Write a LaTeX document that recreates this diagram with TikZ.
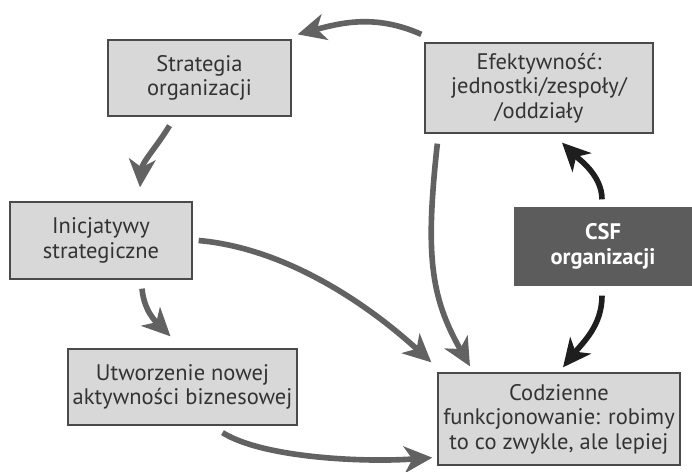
\documentclass[tikz,border=0pt]{standalone}
\usepackage{fontspec}
\setmainfont{PT Sans}
\usepackage{tikz}
\usetikzlibrary{arrows.meta}
\definecolor{boxfill}{HTML}{D8D8D8}
\definecolor{boxline}{HTML}{4A4A4A}
\definecolor{csffill}{HTML}{5C5C5C}
\definecolor{flow}{HTML}{626262}
\definecolor{csfflow}{HTML}{1E1E1E}

\begin{document}
\begin{tikzpicture}[
  x=0.025cm, y=-0.025cm,
  box/.style={draw=boxline, line width=0.9pt, fill=boxfill, align=center,
              text=black!80, font=\fontsize{16}{17.5}\selectfont, inner sep=0pt},
  csfbox/.style={box, fill=csffill, draw=csffill, text=white, font=\fontsize{16}{17.5}\selectfont\bfseries},
  flowarrow/.style={draw=flow, line width=4pt,
                    -{Stealth[length=7mm, width=6.6mm, inset=2mm]}},
  csfarrow/.style={flowarrow, draw=csfflow}
]
  \useasboundingbox (0,0) rectangle (692,472);

  \node[box, minimum width=4.575cm, minimum height=1.9cm] (strat) at (199.5,78) {Strategia\\organizacji};
  \node[box, minimum width=5.7cm, minimum height=2.25cm] (efekt) at (539,88) {Efektywność:\\jednostki/zespoły/\\/oddziały};
  \node[csfbox, minimum width=4.4cm, minimum height=1.925cm] (csf) at (603,246.5) {CSF\\organizacji};
  \node[box, minimum width=4.55cm, minimum height=1.925cm] (inic) at (101,240.5) {Inicjatywy\\strategiczne};
  \node[box, minimum width=5.725cm, minimum height=1.9cm] (utw) at (182.5,387) {Utworzenie nowej\\aktywności biznesowej};
  \node[box, minimum width=6.05cm, minimum height=2.3cm] (codz) at (559,419) {Codzienne\\funkcjonowanie: robimy\\to co zwykle, ale lepiej};

  % main loop
  \draw[flowarrow] ([shift={(-3,-8)}]efekt.north west) .. controls +(-45,-20) and +(45,-12) .. ([shift={(6,-5)}]strat.north east);
  \draw[flowarrow] ([shift={(-30,9)}]strat.south) .. controls +(-12,20) and +(2,-25) .. ([shift={(39,-14)}]inic.north);
  \draw[flowarrow] ([shift={(41,9)}]inic.south) .. controls +(2,22) and +(-15,-15) .. ([shift={(-12,-12)}]utw.north);
  \draw[flowarrow] ([shift={(6,0)}]inic.east) .. controls +(90,8) and +(-60,-55) .. ([shift={(-6,-10)}]codz.north west);
  \draw[flowarrow] ([shift={(40,7)}]utw.south) .. controls +(40,25) and +(-70,5) .. ([shift={(-5,-8)}]codz.south west);
  \draw[flowarrow] ([shift={(13,10)}]efekt.south west) .. controls +(-12,110) and +(-40,-70) .. ([shift={(-89,-6)}]codz.north);

  % CSF
  \draw[csfarrow] ([shift={(-1,-8)}]csf.north) .. controls +(0,-25) and +(15,15) .. ([shift={(23,9)}]efekt.south);
  \draw[csfarrow] ([shift={(-1,10)}]csf.south) .. controls +(0,30) and +(20,-25) .. ([shift={(4,-5)}]codz.north);
\end{tikzpicture}
\end{document}
